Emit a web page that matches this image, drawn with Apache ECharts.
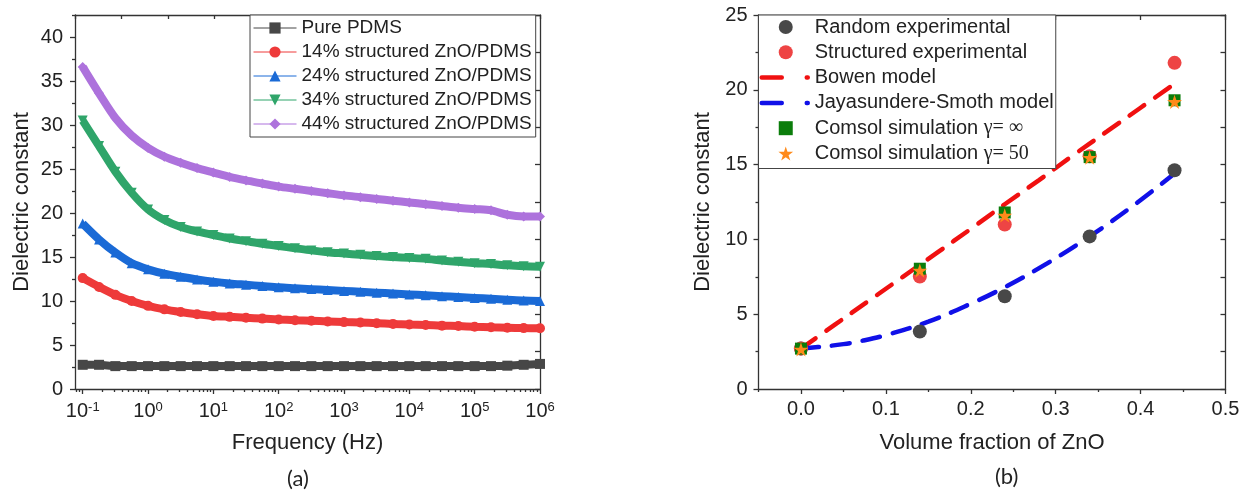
<!DOCTYPE html>
<html>
<head>
<meta charset="utf-8">
<script src="https://cdn.jsdelivr.net/npm/echarts@6/dist/echarts.min.js"></script>
<style>html,body{margin:0;padding:0;background:#fff}#c{width:1248px;height:494px}</style>
</head>
<body>
<div id="c"></div>
<script>
// ---------- Panel (a) data: log10(frequency / Hz) and dielectric constant ----------
const freqExp = [-1,-0.75,-0.5,-0.25,0,0.25,0.5,0.75,1,1.25,1.5,1.75,2,2.25,2.5,2.75,3,3.25,3.5,3.75,4,4.25,4.5,4.75,5,5.25,5.5,5.75,6];
const purePDMS = [2.75,2.75,2.6,2.6,2.6,2.6,2.6,2.6,2.6,2.6,2.6,2.6,2.6,2.6,2.6,2.6,2.6,2.6,2.6,2.6,2.6,2.6,2.6,2.6,2.6,2.6,2.65,2.75,2.85];
const zno14 = [12.6,11.6,10.7,10.0,9.45,9.05,8.75,8.5,8.3,8.2,8.1,8.0,7.9,7.82,7.75,7.68,7.6,7.55,7.48,7.4,7.33,7.27,7.2,7.15,7.08,7.02,6.97,6.92,6.9];
const zno24 = [18.8,17.0,15.5,14.3,13.6,13.1,12.75,12.45,12.2,12.0,11.85,11.7,11.55,11.45,11.35,11.25,11.15,11.05,10.95,10.85,10.75,10.65,10.55,10.45,10.35,10.25,10.15,10.05,10.0];
const zno34 = [30.5,27.6,24.7,22.3,20.4,19.2,18.4,17.9,17.5,17.1,16.8,16.5,16.25,16.0,15.75,15.55,15.4,15.25,15.1,15.0,14.9,14.8,14.6,14.45,14.3,14.2,14.05,13.95,13.9];
const zno44 = [36.6,33.6,30.8,28.8,27.4,26.4,25.7,25.1,24.6,24.1,23.7,23.35,23.0,22.75,22.5,22.25,22.0,21.8,21.6,21.4,21.2,21.0,20.8,20.6,20.45,20.3,19.8,19.6,19.6];
const namesA = ['Pure PDMS','14% structured ZnO/PDMS','24% structured ZnO/PDMS','34% structured ZnO/PDMS','44% structured ZnO/PDMS'];
const decadeTicks = [-1,0,1,2,3,4,5,6];
const yTicksA = [0,5,10,15,20,25,30,35,40];

// ---------- Panel (b) data ----------
const volFrac = [0,0.14,0.24,0.34,0.44];
const randomExp = [2.7,3.84,6.2,10.2,14.62];
const structuredExp = [2.7,7.52,11.0,15.56,21.8];
const comsolInf = [2.7,8.04,11.8,15.5,19.3];
const comsol50 = [2.65,7.92,11.6,15.47,19.2];
const bowenX = [0,0.04,0.08,0.12,0.16,0.2,0.24,0.28,0.32,0.36,0.4,0.44];
const bowenY = [2.7,4.3,5.9,7.5,9.1,10.7,12.35,13.95,15.6,17.2,18.8,20.4];
const jsX = [0,0.02,0.05,0.07,0.1,0.15,0.2,0.24,0.29,0.34,0.39,0.44];
const jsY = [2.7,2.8,3.0,3.2,3.6,4.5,5.7,6.8,8.4,10.2,12.2,14.4];
const namesB = ['Random experimental','Structured experimental','Bowen model','Jayasundere-Smoth model','Comsol simulation \u03b3= \u221e','Comsol simulation \u03b3= 50'];
const xTicksB = [0,0.1,0.2,0.3,0.4,0.5];
const xMinorB = [-0.05,0.05,0.15,0.25,0.35,0.45];

// minor log tick positions
const logMinor = [];
for (let n = -2; n <= 5; n++) for (let k = 2; k <= 9; k++) {
  const v = n + Math.log10(k);
  if (v >= -1.118 && v <= 6) logMinor.push(v);
}
const yMinorA = [2.5,7.5,12.5,17.5,22.5,27.5,32.5,37.5,42.5];

const FONT = 'Liberation Sans, Arial, sans-serif';
const SERIF = 'Liberation Serif, DejaVu Serif, serif';
const AX = {color:'#333', width:1.3};
const colorsA = ['#474747','#ee3a3a','#1a6ad6','#2fa56a','#ad72dc'];
const symbolsA = ['rect','circle','triangle','triangle','diamond'];
const rotA = [0,0,0,180,0];
const dataA = [purePDMS, zno14, zno24, zno34, zno44];
const STAR = 'path://M50,0 L61.2,34.5 L97.6,34.5 L68.2,55.9 L79.4,90.5 L50,69.1 L20.6,90.5 L31.8,55.9 L2.4,34.5 L38.8,34.5 Z';
const SQUARE = 'path://M0,0 L10,0 L10,10 L0,10 Z';

const seriesA = dataA.map((arr, i) => ({
  name: namesA[i], type: 'line', xAxisIndex: 0, yAxisIndex: 0,
  data: freqExp.map((e, j) => [e, arr[j]]),
  symbol: symbolsA[i], symbolRotate: rotA[i], symbolSize: 10, showSymbol: true,
  lineStyle: {color: colorsA[i], width: 8}, itemStyle: {color: colorsA[i]},
  smooth: 0.3, animation: false, z: 2 + i
}));

const seriesB = [
  {name: namesB[2], type:'line', xAxisIndex:3, yAxisIndex:3, data: bowenX.map((x,i)=>[x,bowenY[i]]),
   symbol:'none', smooth:0.4, lineStyle:{color:'#f01010', width:4.5, type:[18,13], cap:'round'}, itemStyle:{color:'#f01010'}, z:2},
  {name: namesB[3], type:'line', xAxisIndex:3, yAxisIndex:3, data: jsX.map((x,i)=>[x,jsY[i]]),
   symbol:'none', smooth:0.4, lineStyle:{color:'#1010e8', width:4.5, type:[18,13], cap:'round'}, itemStyle:{color:'#1010e8'}, z:2},
  {name: namesB[0], type:'scatter', xAxisIndex:3, yAxisIndex:3, data: volFrac.map((x,i)=>[x,randomExp[i]]),
   symbol:'circle', symbolSize:14, itemStyle:{color:'#484848', opacity:1}, z:3},
  {name: namesB[1], type:'scatter', xAxisIndex:3, yAxisIndex:3, data: volFrac.map((x,i)=>[x,structuredExp[i]]),
   symbol:'circle', symbolSize:14, itemStyle:{color:'#ee4444', opacity:1}, z:4},
  {name: namesB[4], type:'scatter', xAxisIndex:3, yAxisIndex:3, data: volFrac.map((x,i)=>[x,comsolInf[i]]),
   symbol:SQUARE, symbolSize:12, symbolKeepAspect:true, itemStyle:{color:'#0b7d0b', opacity:1}, z:5},
  {name: namesB[5], type:'scatter', xAxisIndex:3, yAxisIndex:3, data: volFrac.map((x,i)=>[x,comsol50[i]]),
   symbol:STAR, symbolSize:15, symbolKeepAspect:true, itemStyle:{color:'#ff8a1a', opacity:1}, z:6}
];

const labelBase = {fontFamily: FONT, fontSize: 20, color: '#222'};
const nameStyle = {fontFamily: FONT, fontSize: 22, color: '#222'};

const legendB = namesB.map((n, i) => {
  if (i === 2 || i === 3) return {name:n, itemStyle:{opacity:0}, lineStyle:{type:[20,25,1,10], cap:'round', width:4.5}};
  if (i === 4) return {name:n, icon:SQUARE};
  return {name:n};
});

const option = {
  animation: false,
  backgroundColor: '#fff',
  grid: [
    {left: 75, top: 15, width: 465, height: 374},
    {left: 758.5, top: 15, width: 467, height: 374}
  ],
  xAxis: [
    {gridIndex:0, type:'value', min:-1.118, max:6, position:'bottom',
     axisLine:{onZero:false, lineStyle:AX}, splitLine:{show:false},
     axisTick:{customValues: decadeTicks, length:5, inside:false, lineStyle:AX},
     axisLabel:{customValues: decadeTicks, margin:12,
       formatter: v => '{b|10}{s|' + Math.round(v) + '}',
       rich:{b:{fontFamily:FONT,fontSize:20,color:'#222'}, s:{fontFamily:FONT,fontSize:13,color:'#222',verticalAlign:'top'}}},
     name:'Frequency (Hz)', nameLocation:'middle', nameGap:43, nameTextStyle:nameStyle},
    {gridIndex:0, type:'value', min:-1.118, max:6, position:'bottom',
     axisLine:{show:false, onZero:false}, splitLine:{show:false}, axisLabel:{show:false},
     axisTick:{customValues: logMinor, length:3, lineStyle:AX}},
    {gridIndex:0, type:'value', min:0, max:10, interval:1, position:'top',
     axisLine:{onZero:false, lineStyle:AX}, splitLine:{show:false}, axisLabel:{show:false},
     axisTick:{inside:true, length:4, lineStyle:AX}},
    {gridIndex:1, type:'value', min:-0.05, max:0.5, position:'bottom',
     axisLine:{onZero:false, lineStyle:AX}, splitLine:{show:false},
     axisTick:{customValues: xTicksB, length:5, lineStyle:AX},
     axisLabel:{customValues: xTicksB, margin:10, formatter: v => v.toFixed(1), ...labelBase},
     name:'Volume fraction of ZnO', nameLocation:'middle', nameGap:43, nameTextStyle:nameStyle},
    {gridIndex:1, type:'value', min:-0.05, max:0.5, position:'bottom',
     axisLine:{show:false, onZero:false}, splitLine:{show:false}, axisLabel:{show:false},
     axisTick:{customValues: xMinorB, length:3, lineStyle:AX}},
    {gridIndex:1, type:'value', min:-0.05, max:0.5, position:'top',
     axisLine:{onZero:false, lineStyle:AX}, splitLine:{show:false}, axisLabel:{show:false},
     axisTick:{customValues: xTicksB, inside:true, length:5, lineStyle:AX}}
  ],
  yAxis: [
    {gridIndex:0, type:'value', min:0, max:42.5, position:'left',
     axisLine:{show:true, onZero:false, lineStyle:AX}, splitLine:{show:false},
     axisTick:{show:true, customValues: yTicksA, length:5, lineStyle:AX},
     axisLabel:{customValues: yTicksA, margin:12, ...labelBase},
     name:'Dielectric constant', nameLocation:'middle', nameGap:42, nameTextStyle:nameStyle},
    {gridIndex:0, type:'value', min:0, max:42.5, position:'left',
     axisLine:{show:false, onZero:false}, splitLine:{show:false}, axisLabel:{show:false},
     axisTick:{show:true, customValues: yMinorA, length:3, lineStyle:AX}},
    {gridIndex:0, type:'value', min:0, max:10, interval:1, position:'right',
     axisLine:{show:true, onZero:false, lineStyle:AX}, splitLine:{show:false}, axisLabel:{show:false},
     axisTick:{show:true, inside:true, length:5, lineStyle:AX}},
    {gridIndex:1, type:'value', min:0, max:25, interval:5, position:'left',
     axisLine:{show:true, onZero:false, lineStyle:AX}, splitLine:{show:false},
     axisTick:{show:true, length:5, lineStyle:AX},
     minorTick:{show:true, splitNumber:2, length:3, lineStyle:AX},
     axisLabel:{margin:11, ...labelBase},
     name:'Dielectric constant', nameLocation:'middle', nameGap:45, nameTextStyle:nameStyle},
    {gridIndex:1, type:'value', min:0, max:25, interval:5, position:'right',
     axisLine:{show:true, onZero:false, lineStyle:AX}, splitLine:{show:false}, axisLabel:{show:false},
     axisTick:{show:true, inside:true, length:5, lineStyle:AX},
     minorTick:{show:true, splitNumber:2, length:5, lineStyle:AX}}
  ],
  legend: [
    {orient:'vertical', left:250, top:15, padding:[3,4,3,3], itemGap:4, itemWidth:43, itemHeight:14,
     borderColor:'#444', borderWidth:1, backgroundColor:'#fff', borderRadius:0,
     textStyle:{fontFamily:FONT, fontSize:19, color:'#222', lineHeight:20},
     lineStyle:{width:1}, data: namesA, selectedMode:false},
    {orient:'vertical', left:758.5, top:15, padding:[1,2,4,1], itemGap:3.3, itemWidth:48, itemHeight:14,
     borderColor:'#444', borderWidth:1, backgroundColor:'#fff', borderRadius:0,
     textStyle:{fontFamily:FONT, fontSize:20, color:'#222', lineHeight:22,
       rich:{a:{fontFamily:FONT, fontSize:20, color:'#222', lineHeight:22}, g:{fontFamily:SERIF, fontSize:20, color:'#222', lineHeight:22}}},
     formatter: n => {
       const k = n.indexOf('\u03b3');
       return k >= 0 ? '{a|' + n.slice(0, k) + '}{g|' + n.slice(k) + '}' : n;
     },
     data: legendB, selectedMode:false}
  ],
  graphic: [
    {type:'text', left:287, top:468, style:{text:'(a)', fontFamily:'Lato, Open Sans, sans-serif', fontSize:22, fill:'#222'}},
    {type:'text', left:995, top:466, style:{text:'(b)', fontFamily:'Lato, Open Sans, sans-serif', fontSize:22, fill:'#222'}}
  ],
  series: seriesA.concat(seriesB)
};

const chart = echarts.init(document.getElementById('c'), null, {renderer:'canvas'});
chart.setOption(option);
</script>
</body>
</html>
